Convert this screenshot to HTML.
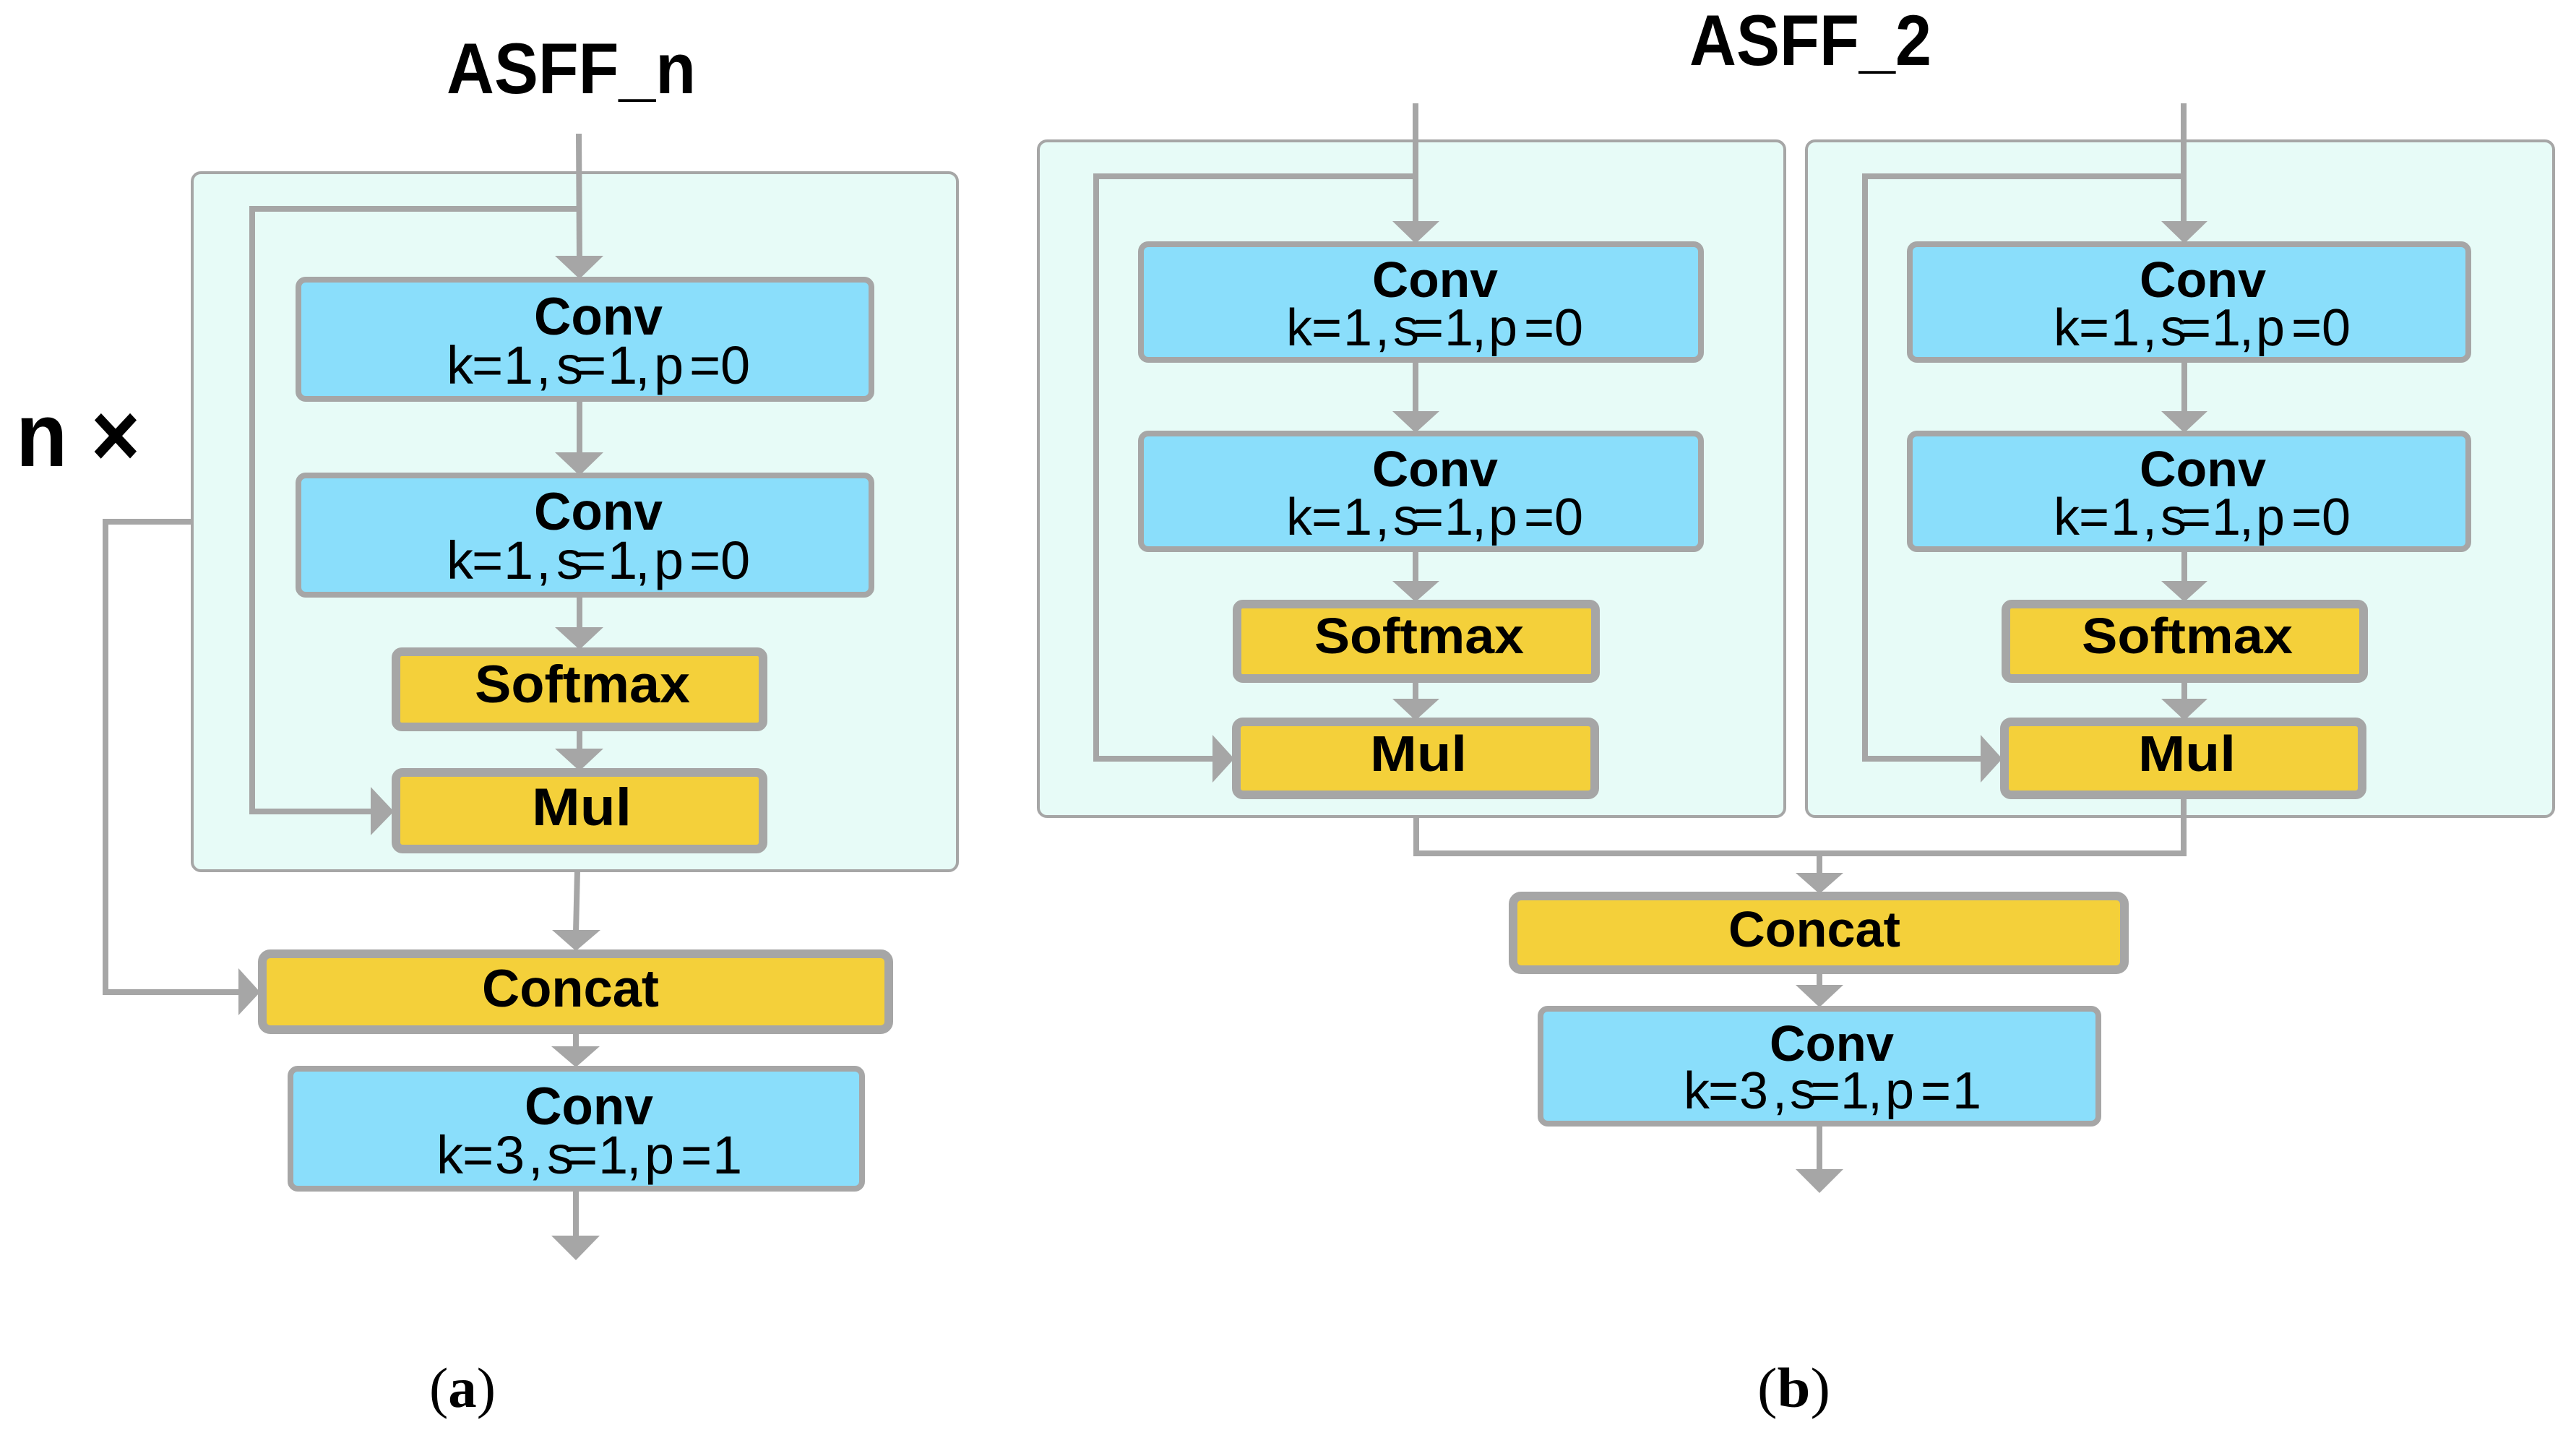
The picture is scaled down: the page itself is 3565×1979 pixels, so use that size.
<!DOCTYPE html>
<html><head><meta charset="utf-8"><style>
html,body{margin:0;padding:0;background:#fff}
svg{display:block}
.p{fill:#E7FBF7;stroke:#A6A6A6;stroke-width:4}
.b{fill:#8ADEFB;stroke:#A6A6A6;stroke-width:8}
.y{fill:#F4D03A;stroke:#A6A6A6;stroke-width:12}
.l{fill:none;stroke:#A6A6A6;stroke-width:8}
.a{fill:#A6A6A6}
text{font-family:"Liberation Sans",sans-serif;fill:#000}
.h{font-weight:700;font-size:73px}
.hr{font-weight:700;font-size:70px}
.t{font-size:74px}
.tr{font-size:72px}
.ti{font-weight:700;font-size:99px}
.c{font-family:"Liberation Serif",serif;font-size:78px}
</style></head><body>
<svg width="3565" height="1979" viewBox="0 0 3565 1979" xmlns="http://www.w3.org/2000/svg">
<rect width="3565" height="1979" fill="#fff"/>

<!-- (a) -->
<rect class="p" x="266" y="239" width="1059" height="966" rx="12"/>
<polyline class="l" points="801,185 802,360"/>
<polyline class="l" points="802,289 349,289 349,1123 520,1123"/>
<polyline class="l" points="802,555 802,630"/>
<polyline class="l" points="802,826 802,870"/>
<polyline class="l" points="802,1011 802,1040"/>
<polyline class="l" points="799,1205 797,1290"/>
<polyline class="l" points="797,1430 797,1450"/>
<polyline class="l" points="797,1648 797,1715"/>
<polyline class="l" points="265,722 146,722 146,1373 335,1373"/>
<polygon class="a" points="768,354 835,354 802,386"/>
<polygon class="a" points="768,626 835,626 802,658"/>
<polygon class="a" points="768,868 835,868 802,899"/>
<polygon class="a" points="768,1036 835,1036 802,1067"/>
<polygon class="a" points="764,1287 831,1287 797,1316"/>
<polygon class="a" points="763,1448 830,1448 797,1477"/>
<polygon class="a" points="763,1710 830,1710 797,1744"/>
<polygon class="a" points="513,1089 545,1123 513,1156"/>
<polygon class="a" points="330,1340 360,1373 330,1405"/>

<rect class="b" x="413" y="387" width="793" height="165" rx="10"/>
<rect class="b" x="413" y="658" width="793" height="165" rx="10"/>
<rect class="y" x="548" y="902" width="508" height="104" rx="8"/>
<rect class="y" x="548" y="1069" width="508" height="106" rx="9"/>
<rect class="y" x="363" y="1320" width="867" height="105" rx="11"/>
<rect class="b" x="402" y="1479" width="791" height="166" rx="10"/>

<text class="ti" x="618" y="129" textLength="345" lengthAdjust="spacingAndGlyphs">ASFF_n</text>
<text x="22" y="645" font-size="125" font-weight="700" textLength="172" lengthAdjust="spacingAndGlyphs">n ×</text>
<text class="h" x="739" y="463" textLength="178" lengthAdjust="spacingAndGlyphs">Conv</text>
<text class="t" x="618 653 697 742 770 796 841 879 905 954 997" y="531">k=1,s=1,p=0</text>
<text class="h" x="739" y="733" textLength="178" lengthAdjust="spacingAndGlyphs">Conv</text>
<text class="t" x="618 653 697 742 770 796 841 879 905 954 997" y="801">k=1,s=1,p=0</text>
<text class="h" x="657" y="972" textLength="298" lengthAdjust="spacingAndGlyphs">Softmax</text>
<text class="h" x="736" y="1142" textLength="138" lengthAdjust="spacingAndGlyphs">Mul</text>
<text class="h" x="667" y="1393" textLength="245" lengthAdjust="spacingAndGlyphs">Concat</text>
<text class="h" x="726" y="1556" textLength="178" lengthAdjust="spacingAndGlyphs">Conv</text>
<text class="t" x="604 640 685 731 757 784 828 867 892 942 986" y="1624">k=3,s=1,p=1</text>
<text class="c" x="594" y="1947" textLength="92" lengthAdjust="spacingAndGlyphs">(<tspan font-weight="700">a</tspan>)</text>

<!-- (b) -->
<rect class="p" x="1437" y="195" width="1033" height="935" rx="12"/>
<rect class="p" x="2500" y="195" width="1034" height="935" rx="12"/>

<polyline class="l" points="1959,143 1959,310"/>
<polyline class="l" points="1959,244 1517,244 1517,1050 1685,1050"/>
<polyline class="l" points="1959,500 1959,572"/>
<polyline class="l" points="1959,763 1959,808"/>
<polyline class="l" points="1959,943 1959,970"/>
<polygon class="a" points="1927,306 1992,306 1959,337"/>
<polygon class="a" points="1927,569 1992,569 1959,599"/>
<polygon class="a" points="1927,804 1992,804 1959,833"/>
<polygon class="a" points="1927,967 1992,967 1959,997"/>
<polygon class="a" points="1678,1017 1708,1050 1678,1083"/>

<polyline class="l" points="3022,143 3022,310"/>
<polyline class="l" points="3022,244 2581,244 2581,1050 2748,1050"/>
<polyline class="l" points="3023,500 3023,572"/>
<polyline class="l" points="3023,763 3023,808"/>
<polyline class="l" points="3023,943 3023,970"/>
<polygon class="a" points="2991,306 3055,306 3023,337"/>
<polygon class="a" points="2991,569 3055,569 3023,599"/>
<polygon class="a" points="2991,804 3055,804 3023,833"/>
<polygon class="a" points="2991,967 3055,967 3023,997"/>
<polygon class="a" points="2741,1017 2771,1050 2741,1083"/>

<polyline class="l" points="1960,1130 1960,1181 3022,1181 3022,1104"/>
<polyline class="l" points="2518,1181 2518,1212"/>
<polyline class="l" points="2518,1347 2518,1368"/>
<polyline class="l" points="2518,1558 2518,1622"/>
<polygon class="a" points="2485,1208 2551,1208 2518,1237"/>
<polygon class="a" points="2485,1363 2551,1363 2518,1394"/>
<polygon class="a" points="2485,1618 2551,1618 2518,1651"/>

<rect class="b" x="1579" y="338" width="775" height="160" rx="10"/>
<rect class="b" x="1579" y="600" width="775" height="160" rx="10"/>
<rect class="y" x="1712" y="836" width="496" height="103" rx="8"/>
<rect class="y" x="1711" y="999" width="496" height="101" rx="9"/>

<rect class="b" x="2643" y="338" width="773" height="160" rx="10"/>
<rect class="b" x="2643" y="600" width="773" height="160" rx="10"/>
<rect class="y" x="2776" y="836" width="495" height="103" rx="8"/>
<rect class="y" x="2774" y="999" width="495" height="101" rx="9"/>

<rect class="y" x="2094" y="1240" width="846" height="102" rx="11"/>
<rect class="b" x="2132" y="1396" width="772" height="159" rx="10"/>

<text class="ti" x="2338" y="90" textLength="335" lengthAdjust="spacingAndGlyphs">ASFF_2</text>
<text class="hr" x="1899" y="411" textLength="174" lengthAdjust="spacingAndGlyphs">Conv</text>
<text class="tr" x="1780 1815 1859 1903 1928 1956 1999 2037 2060 2109 2151" y="478">k=1,s=1,p=0</text>
<text class="hr" x="1899" y="673" textLength="174" lengthAdjust="spacingAndGlyphs">Conv</text>
<text class="tr" x="1780 1815 1859 1903 1928 1956 1999 2037 2060 2109 2151" y="740">k=1,s=1,p=0</text>
<text class="hr" x="1819" y="904" textLength="290" lengthAdjust="spacingAndGlyphs">Softmax</text>
<text class="hr" x="1896" y="1067" textLength="134" lengthAdjust="spacingAndGlyphs">Mul</text>

<text class="hr" x="2961" y="411" textLength="175" lengthAdjust="spacingAndGlyphs">Conv</text>
<text class="tr" x="2842 2877 2921 2965 2990 3018 3061 3099 3122 3171 3213" y="478">k=1,s=1,p=0</text>
<text class="hr" x="2961" y="673" textLength="175" lengthAdjust="spacingAndGlyphs">Conv</text>
<text class="tr" x="2842 2877 2921 2965 2990 3018 3061 3099 3122 3171 3213" y="740">k=1,s=1,p=0</text>
<text class="hr" x="2881" y="904" textLength="292" lengthAdjust="spacingAndGlyphs">Softmax</text>
<text class="hr" x="2959" y="1067" textLength="135" lengthAdjust="spacingAndGlyphs">Mul</text>

<text class="hr" x="2392" y="1310" textLength="238" lengthAdjust="spacingAndGlyphs">Concat</text>
<text class="hr" x="2449" y="1468" textLength="172" lengthAdjust="spacingAndGlyphs">Conv</text>
<text class="tr" x="2330 2364 2407 2453 2477 2505 2547 2585 2609 2658 2702" y="1534">k=3,s=1,p=1</text>
<text class="c" x="2432" y="1947" textLength="101" lengthAdjust="spacingAndGlyphs">(<tspan font-weight="700">b</tspan>)</text>
</svg>
</body></html>
